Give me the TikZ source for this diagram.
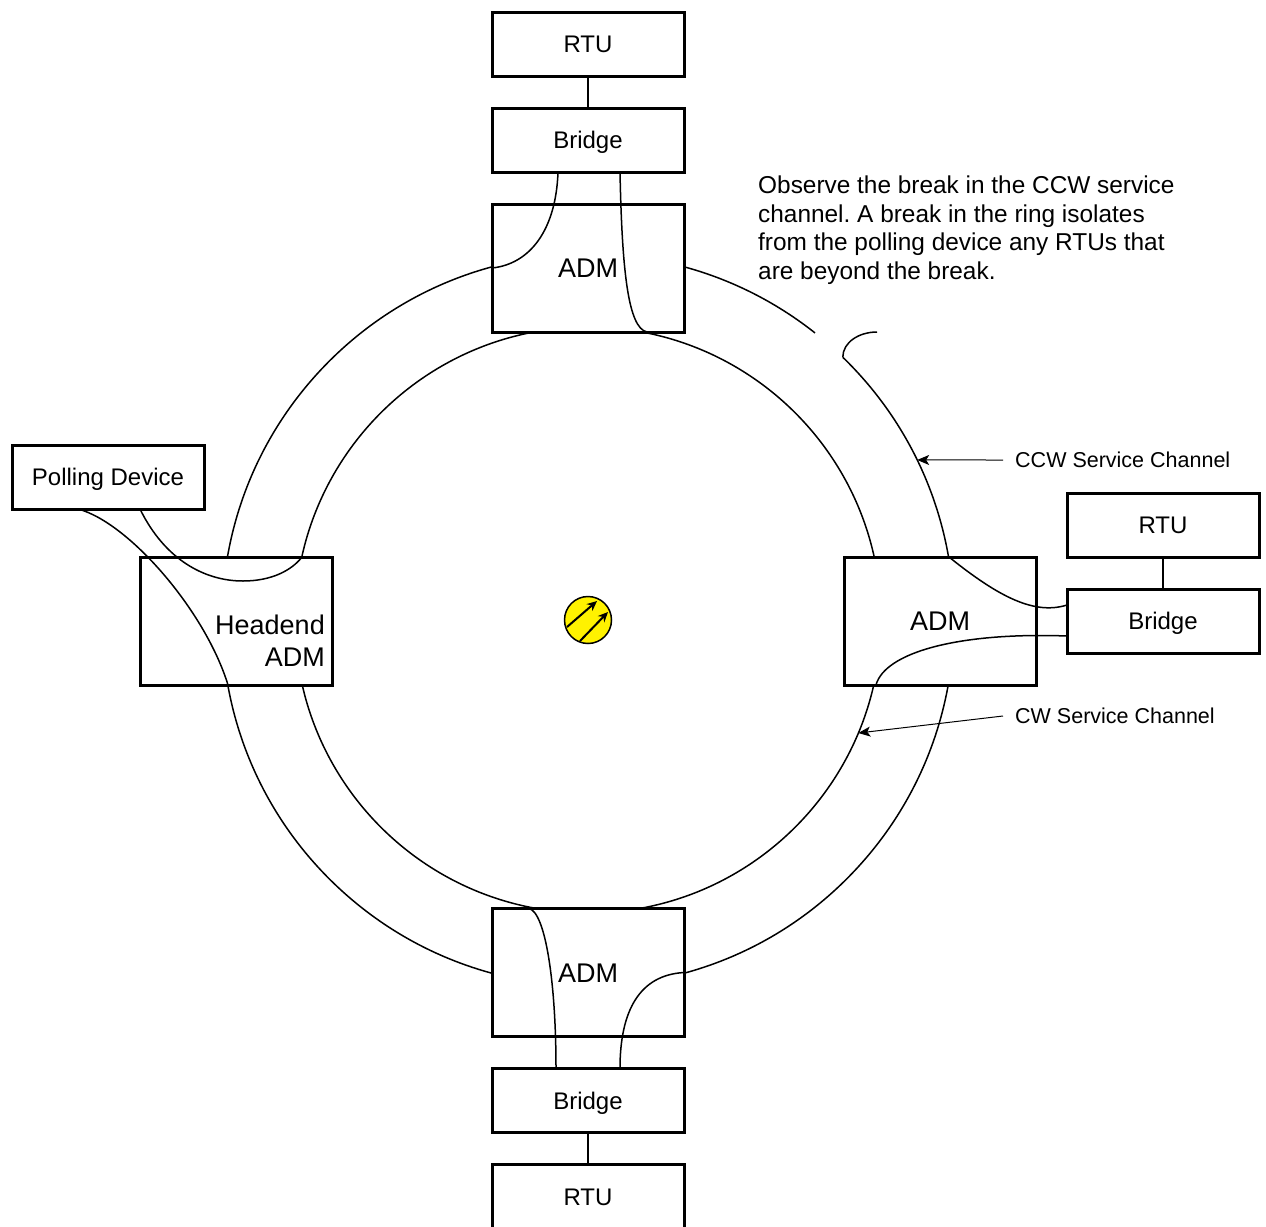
\documentclass[tikz,border=0pt]{standalone}
\usepackage{fontspec}
\setmainfont{Liberation Sans}
\usetikzlibrary{positioning, calc, arrows.meta}
\frenchspacing
\tikzset{
  unit/.style={
	draw, line width=3pt, fill=white, % white fill hides the ring behind the box
	minimum width=192pt, minimum height=64pt, % size of the small boxes
	inner sep=0pt, outer sep=0pt,
	text height=17pt, text depth=0pt, % centre the capitals like the original
	font=\fontsize{24}{29}\selectfont,
  },
  adm/.style={unit, minimum height=128pt, % the ADMs are twice as high
	text height=19.3pt, font=\fontsize{27}{32}\selectfont},
  ring/.style={line width=1.5pt},
  link/.style={line width=2pt},
  caption/.style={inner sep=0pt, align=right, font=\fontsize{27}{32}\selectfont},
  note/.style={inner sep=0pt, align=left, font=\fontsize{24.4}{28.5}\selectfont},
  tag/.style={inner sep=12pt, font=\fontsize{21.5}{26}\selectfont},
  pointer/.style={-{Stealth[length=12pt, width=10pt, inset=3pt]}, line width=1pt},
}

\begin{document}
\begin{tikzpicture}[x=1pt, y=-1pt, node distance=32pt]
\useasboundingbox (0,0) rectangle (1266,1226);
\coordinate (hub) at (588,620);

% the two rings, the CCW one is broken at the top right
\draw[ring] (hub) circle[radius=293];
\draw[ring] ($(hub)+(-45.88:366)$) arc[start angle=-45.88, end angle=308.34, radius=366];
\draw[ring] ($(hub)+(-45.88:366)$) .. controls +(0,-15) and +(-18,0) .. (877,332);

\node[adm] (admT) at (588,268) {ADM};
\node[unit, above=of admT] (brT) {Bridge};
\node[unit, above=of brT] (rtuT) {RTU};
\node[adm] (admR) at (940,621) {ADM};
\node[unit, right=31pt of admR] (brR) {Bridge};
\node[unit, above=of brR] (rtuR) {RTU};
\node[adm] (admB) at (588,972.5) {ADM};
\node[unit, below=of admB] (brB) {Bridge};
\node[unit, below=of brB] (rtuB) {RTU};
\node[adm] (admH) at (236,621) {};
\node[caption, anchor=north east] (hlbl) at ($(admH.north east)+(-7,58)$) {Headend\\ADM};
\node[unit] (poll) at (108,477) {Polling Device};
\node[circle, draw, line width=1.5pt, fill=yellow, minimum size=47pt, inner sep=0pt] (sym) at (hub) {};
\draw[-{Stealth[length=10pt, width=9pt]}, line width=2pt] ($(sym)+(-21,7)$) -- ($(sym)+(9,-19)$);
\draw[-{Stealth[length=10pt, width=9pt]}, line width=2pt] ($(sym)+(-8,21)$) -- ($(sym)+(20,-8)$);

% RTU to bridge
\draw[link] (rtuT) -- (brT) (rtuR) -- (brR) (brB) -- (rtuB);

% channels dropped through each ADM
\draw[ring] (admT.west) .. controls (530,264) and (556,230) .. ($(brT.south)+(-30,0)$);
\draw[ring] ($(brT.south)+(32,0)$) .. controls (622,270) and (628,328) .. ($(admT.south)+(59,0)$);
\draw[ring] ($(admR.north)+(9,0)$) .. controls (1000,598) and (1035,615) .. ($(brR.west)+(0,-16)$);
\draw[ring] ($(brR.west)+(0,15)$) .. controls (960,632) and (885,652) .. ($(admR.south)+(-64,0)$);
\draw[ring] ($(admB.north)+(-59,0)$) .. controls (545,912) and (556,980) .. ($(brB.north)+(-32,0)$);
\draw[ring] (admB.east) .. controls (640,975) and (620,1010) .. ($(brB.north)+(32,0)$);
\draw[ring] ($(poll.south)+(-30,0)$) .. controls (128,522) and (205,610) .. ($(admH.south)+(-8,0)$);
\draw[ring] ($(poll.south)+(32,0)$) .. controls (165,560) and (205,581) .. (243,581)
	.. controls (272,581) and (292,570) .. ($(admH.north)+(66,0)$);

% labels
\node[note, anchor=north west] (obs) at (758,176) {Observe the break in the CCW service\\channel. A break in the ring isolates\\from the polling device any RTUs that\\are beyond the break.};
\node[tag, anchor=west] (ccw) at (1003,460) {CCW Service Channel};
\node[tag, anchor=west] (cw) at (1003,716) {CW Service Channel};
\coordinate (ccwpt) at ($(hub)+(-25.93:366)$);
\coordinate (cwpt) at ($(hub)+(22.69:293)$);
\draw[pointer] (ccw.west) -- (ccwpt);
\draw[pointer] (cw.west) -- (cwpt);
\end{tikzpicture}
\end{document}
